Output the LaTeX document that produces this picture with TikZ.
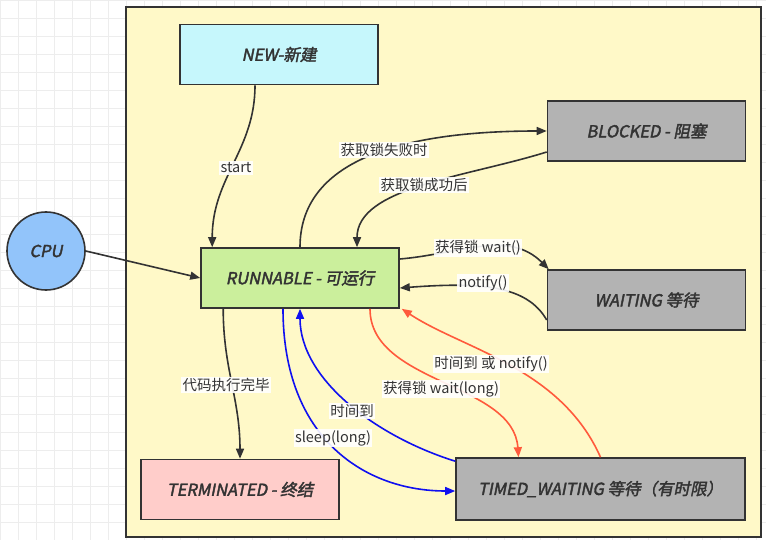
\documentclass[tikz,border=0pt]{standalone}
\usepackage{fontspec}
\setmainfont{Noto Sans CJK SC}
\newfontfamily\nodefont{Noto Sans CJK SC}[FakeSlant=0.2, FakeBold=2.2]
\usetikzlibrary{arrows.meta,calc}
\definecolor{ink}{HTML}{333333}
\definecolor{contfill}{HTML}{FFF9C8}
\definecolor{newfill}{HTML}{C6F7FC}
\definecolor{grayfill}{HTML}{B3B3B3}
\definecolor{runfill}{HTML}{CBEF9C}
\definecolor{termfill}{HTML}{FFCDCA}
\definecolor{cpufill}{HTML}{92C4FA}
\definecolor{redline}{HTML}{FF5A3C}
\definecolor{blueline}{HTML}{1010F0}
\tikzset{
  state/.style={draw=ink, line width=1.6pt, rectangle, minimum width=198pt, minimum height=60pt,
    font=\nodefont\fontsize{16.5}{19}\selectfont, text=ink, inner sep=0pt},
  conn/.style={line width=1.6pt, draw=ink, -{Triangle[length=10pt,width=8pt]}},
  redconn/.style={conn, draw=redline},
  blueconn/.style={conn, draw=blueline},
  lbl/.style={fill=white, fill opacity=0.9, text opacity=1, inner sep=1.5pt, text=ink,
    font=\fontsize{14.5}{17}\selectfont}
}
\begin{document}
\begin{tikzpicture}[x=1pt,y=-1pt]
\useasboundingbox (0,0) rectangle (766,540);
\fill[white] (0,0) rectangle (766,540);
\draw[black!7, line width=0.6pt, step=18pt] (0,0) grid (766,540);
\node[draw=ink, line width=1.6pt, fill=contfill, minimum width=635pt, minimum height=530pt, inner sep=0pt] (cont) at (443.5,272) {};

\node[state, fill=newfill] (new) at (279,54.5) {NEW-新建};
\node[state, fill=grayfill] (blocked) at (646.5,131) {BLOCKED - 阻塞};
\node[draw=ink, line width=1.6pt, circle, fill=cpufill, minimum size=78pt, inner sep=0pt,
  font=\nodefont\fontsize{16.5}{19}\selectfont, text=ink] (cpu) at (46,251) {CPU};
\node[state, fill=runfill] (run) at (300,278) {RUNNABLE - 可运行};
\node[state, fill=grayfill] (wait) at (646.5,300) {WAITING 等待};
\node[state, fill=termfill] (term) at (240,489.5) {TERMINATED - 终结};
\node[state, fill=grayfill, minimum width=289pt, minimum height=62pt] (timed) at (600.5,489) {TIMED\_WAITING 等待（有时限）};

% start
\draw[conn] ($(new.south)+(-24,0)$) .. controls +(0,65) and +(0,-70) .. ($(run.north west)+(12,0)$);
\node[lbl] (lstart) at (236,168) {start};
% CPU
\draw[conn] (cpu.east) -- (run.west);
% to blocked
\draw[conn] (run.north) .. controls +(0,-85) and +(-150,0) .. ($(blocked.west)+(0,0)$);
\node[lbl] (lfail) at (384,150) {获取锁失败时};
% from blocked
\draw[conn] ($(blocked.west)+(0,21)$) .. controls +(-80,25) and +(0,-60) .. ($(run.north)+(57,0)$);
\node[lbl] (lok) at (424,185) {获取锁成功后};
% wait()
\draw[conn] ($(run.east)+(0,-19)$) .. controls +(60,-5) and +(-40,-40) .. ($(wait.north west)+(2,0)$);
\node[lbl] (lwait) at (478,248) {获得锁 wait()};
% notify()
\draw[conn] ($(wait.west)+(0,20)$) .. controls +(-20,-35) and +(80,-6) .. ($(run.east)+(0,10)$);
\node[lbl] (lnotify) at (483,283) {notify()};
% terminated
\draw[conn] ($(run.south west)+(23,0)$) .. controls +(0,60) and +(0,-60) .. (term.north);
\node[lbl] (lterm) at (226,385) {代码执行完毕};
% blue sleep(long)
\draw[blueconn] ($(run.south)+(-17,0)$) .. controls +(0,130) and +(-90,0) .. ($(timed.west)+(0,2)$);
\node[lbl] (lsleep) at (333,438) {sleep(long)};
% blue 时间到
\draw[blueconn] ($(timed.north west)+(0,4)$) .. controls +(-80,-25) and +(0,70) .. ($(run.south)+(0,0)$);
\node[lbl] (ltime) at (352,411) {时间到};
% red wait(long)
\draw[redconn] ($(run.south)+(70,0)$) .. controls +(0,75) and +(-5,-75) .. ($(timed.north)+(-82,0)$);
\node[lbl] (lwl) at (441,389) {获得锁 wait(long)};
% red 时间到 或 notify()
\draw[redconn] ($(timed.north)+(0,0)$) .. controls +(-40,-90) and +(60,40) .. ($(run.south east)+(2,0)$);
\node[lbl] (ltn) at (491,364) {时间到 或 notify()};
\end{tikzpicture}
\end{document}
